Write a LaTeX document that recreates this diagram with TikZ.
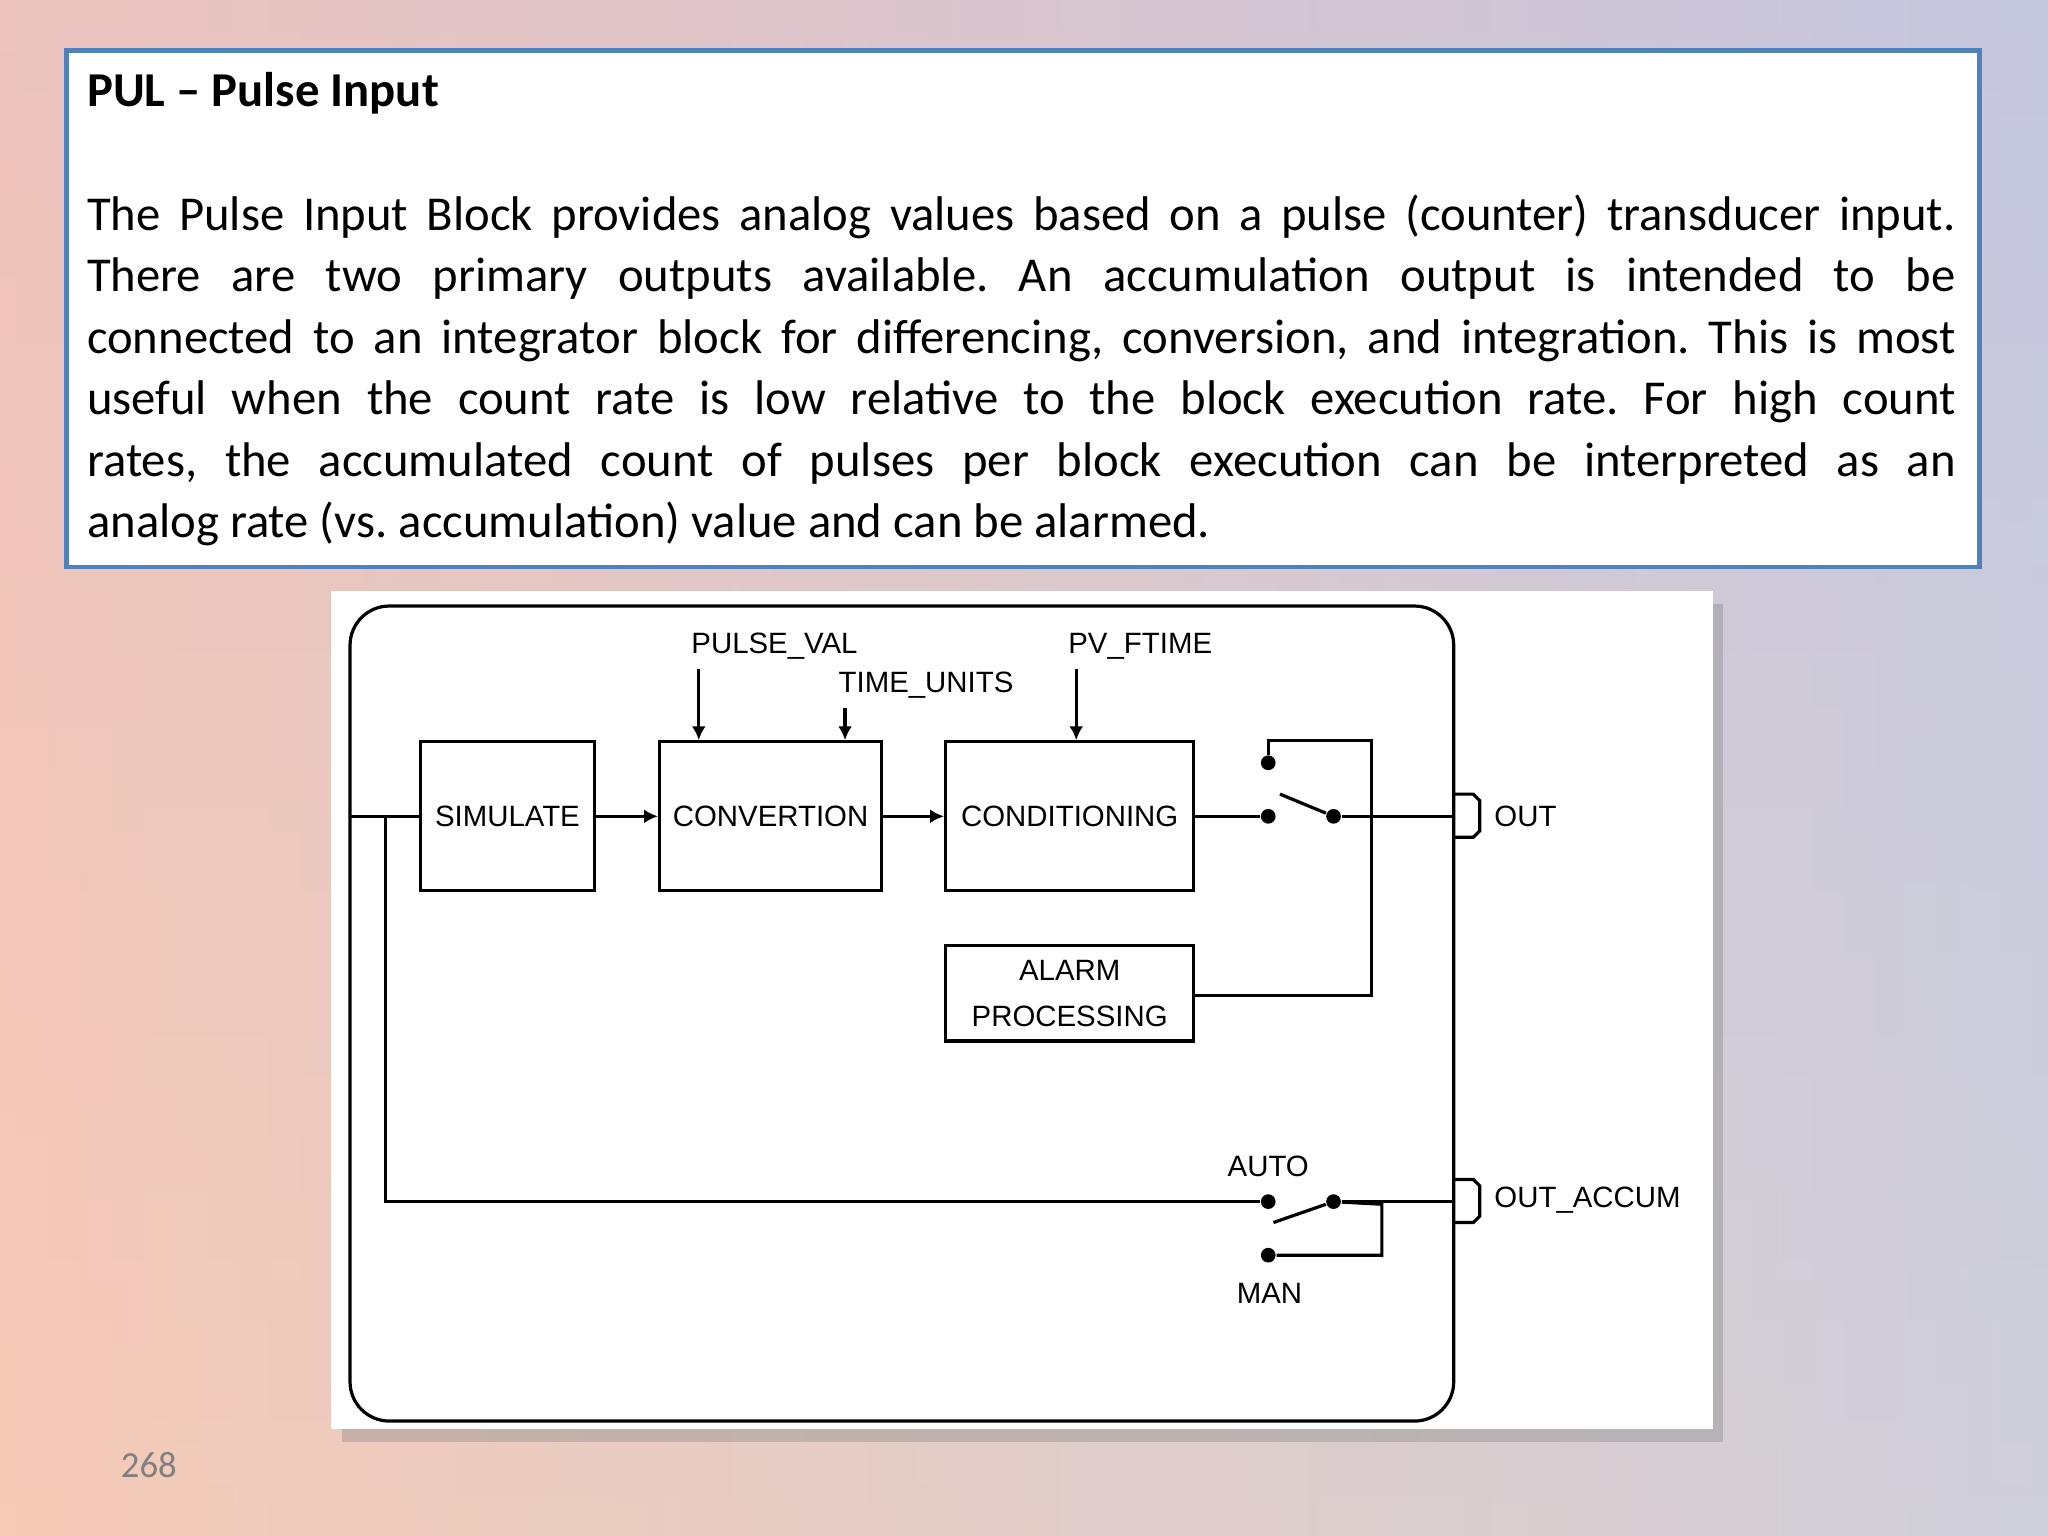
\documentclass[tikz,border=0pt]{standalone}
\usepackage{fontspec}
\setmainfont{Carlito}
\newfontfamily\diag{Liberation Sans}
\usetikzlibrary{arrows.meta,shadows}
\begin{document}
\begin{tikzpicture}[x=0.01cm,y=-0.01cm,
  blk/.style={draw,line width=0.7pt,minimum width=#1*0.01cm,minimum height=1.14cm,inner sep=0pt,font=\diag\fontsize{6.4}{8}\selectfont},
  lbl/.style={font=\diag\fontsize{6.4}{8}\selectfont,inner sep=1pt},
  dot/.style={circle,fill,inner sep=0pt,minimum size=3.2pt},
  ln/.style={line width=0.7pt},
  arr/.style={ln,-{Latex[length=3pt,width=3pt]}}]
\useasboundingbox (0,0) rectangle (1568,1176);
\shade[left color={rgb,255:red,250;green,205;blue,175},right color={rgb,255:red,185;green,212;blue,232}] (0,0) rectangle (1568,1176);
\shade[top color={rgb,255:red,215;green,180;blue,210},bottom color={rgb,255:red,240;green,200;blue,195},opacity=0.4] (0,0) rectangle (1568,1176);
% text box
\node[draw={rgb,255:red,79;green,129;blue,189},line width=1pt,fill=white,minimum width=14.64cm,minimum height=3.95cm,anchor=north west] (tb) at (49,37) {};
\node[anchor=north west,text width=14.3cm,align=justify,inner sep=0pt,font=\fontsize{10.6}{13.4}\selectfont\frenchspacing] (txt) at (66,55)
{\textbf{PUL – Pulse Input}\\[13.4pt]
The Pulse Input Block provides analog values based on a pulse (counter) transducer input.\linebreak There are two primary outputs available. An accumulation output is intended to be\linebreak connected to an integrator block for differencing, conversion, and integration. This is most\linebreak useful when the count rate is low relative to the block execution rate. For high count\linebreak rates, the accumulated count of pulses per block execution can be interpreted as an\linebreak analog rate (vs.\ accumulation) value and can be alarmed.};
% diagram panel
\node[fill=white,drop shadow={shadow xshift=0.08cm,shadow yshift=-0.1cm,opacity=0.35},minimum width=10.57cm,minimum height=6.41cm,anchor=north west,inner sep=0pt] (panel) at (253,452) {};
\draw[ln,rounded corners=0.3cm] (268,464) rectangle (1113,1088);
\node[blk=133] (sim) at (388.5,625) {SIMULATE};
\node[blk=170] (conv) at (590,625) {CONVERTION};
\node[blk=190] (cond) at (819,625) {CONDITIONING};
\node[blk=190,minimum height=0.73cm,align=center] (alarm) at (819,760.5) {ALARM\\[2pt]PROCESSING};
\node[lbl,anchor=south] (pv) at (593,509) {PULSE\_VAL};
\node[lbl,anchor=south] (tu) at (709,539) {TIME\_UNITS};
\node[lbl,anchor=south] (pf) at (873,509) {PV\_FTIME};
\coordinate (pva) at (535,512); \coordinate (tua) at (647,542); \coordinate (pfa) at (824,512);
\draw[arr] (pva) -- (pva|-conv.north);
\draw[arr] (tua) -- (tua|-conv.north);
\draw[arr] (pfa) -- (pfa|-cond.north);
\coordinate (in) at (268,625); \coordinate (br) at (295,625);
\draw[ln] (in) -- (sim.west);
\draw[arr] (sim.east) -- (conv.west);
\draw[arr] (conv.east) -- (cond.west);
% OUT switch
\node[dot] (s1) at (971,584) {};
\node[dot] (s2) at (971,625) {};
\node[dot] (s3) at (1021,625) {};
\draw[ln] (cond.east) -- (s2);
\draw[ln] (s1) -- (971,567) -- (1050,567) -- (1050,762) -- (alarm.east|-0,762);
\draw[ln] (980,608) -- (s3);
\coordinate (ob) at (1113,625);
\draw[ln] (s3) -- (ob);
\draw[ln] (1113,608) -- (1128,608) -- (1133,613) -- (1133,636) -- (1128,641) -- (1113,641);
\node[lbl,anchor=west] (out) at (1140,625) {OUT};
% accum
\node[dot] (a1) at (971,920) {};
\node[dot] (a2) at (1021,920) {};
\node[dot] (m1) at (971,961) {};
\draw[ln] (br) -- (295,920) -- (a1);
\draw[ln] (975,936) -- (a2);
\draw[ln] (m1) -- (1058,961) -- (1058,922) -- (a2);
\coordinate (ab) at (1113,920);
\draw[ln] (a2) -- (ab);
\draw[ln] (1113,903) -- (1128,903) -- (1133,908) -- (1133,931) -- (1128,936) -- (1113,936);
\node[lbl,anchor=west] (oa) at (1140,919) {OUT\_ACCUM};
\node[lbl] (auto) at (971,893) {AUTO};
\node[lbl] (man) at (972,990) {MAN};
\node[text=gray,font=\fontsize{8}{10}\selectfont] (pg) at (114,1122) {268};
\end{tikzpicture}
\end{document}
